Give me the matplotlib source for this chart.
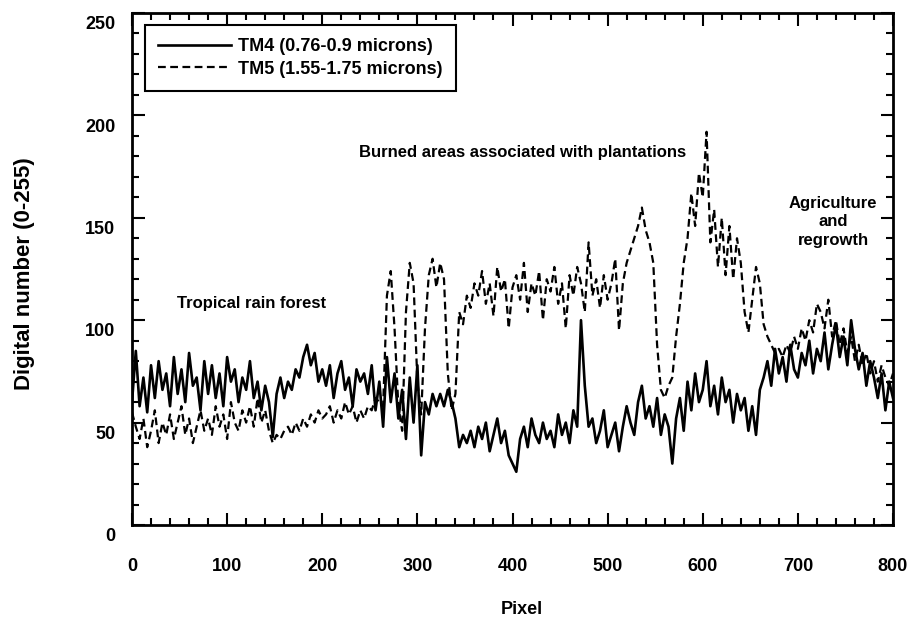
import matplotlib.pyplot as plt
import matplotlib.transforms as mtransforms
import numpy as np

# pixel position along the transect (every 4th pixel)
pixel = np.arange(0, 801, 4)

# TM4 (0.76-0.9 microns), solid line
tm4 = [60, 85, 58, 72, 55, 78, 62, 80, 66, 74, 58,
       82, 64, 76, 60, 84, 68, 72, 56, 80, 64,
       78, 62, 74, 58, 82, 70, 76, 60, 72, 66,
       80, 62, 70, 56, 68, 60, 43, 64, 72, 62,
       70, 66, 76, 72, 82, 88, 78, 84, 70, 76,
       68, 78, 62, 74, 80, 66, 72, 58, 76, 70,
       74, 64, 78, 56, 70, 48, 82, 60, 74, 52,
       66, 42, 72, 50, 78, 34, 60, 54, 64, 58,
       64, 58, 66, 60, 52, 38, 44, 40, 46, 38,
       48, 42, 50, 36, 44, 52, 40, 46, 34, 30,
       26, 42, 48, 38, 52, 44, 40, 50, 42, 46,
       38, 54, 44, 50, 40, 56, 48, 100, 68, 48,
       52, 40, 46, 56, 38, 44, 50, 36, 48, 58,
       50, 44, 60, 68, 52, 58, 48, 62, 44, 54,
       48, 30, 52, 62, 46, 70, 56, 74, 60, 66,
       80, 58, 68, 54, 72, 60, 66, 50, 64, 56,
       62, 46, 58, 44, 66, 72, 80, 68, 86, 74,
       82, 70, 88, 76, 72, 84, 78, 90, 74, 86,
       80, 94, 76, 88, 98, 82, 92, 78, 100, 86,
       76, 84, 68, 80, 72, 62, 74, 56, 70, 62]

# TM5 (1.55-1.75 microns), dashed line
tm5 = [55, 48, 42, 52, 38, 46, 56, 40, 50, 44, 54,
       42, 50, 58, 44, 52, 40, 48, 56, 46, 52,
       44, 58, 48, 54, 42, 60, 50, 46, 56, 50,
       58, 48, 62, 50, 56, 46, 40, 44, 42, 46,
       48, 44, 50, 46, 52, 48, 54, 50, 56, 52,
       54, 58, 50, 56, 52, 60, 54, 58, 50, 56,
       52, 58, 56, 62, 60, 58, 112, 124, 96, 58,
       46, 104, 128, 118, 70, 54, 96, 122, 130, 116,
       128, 120, 74, 56, 64, 104, 98, 112, 106, 118,
       112, 124, 108, 118, 102, 126, 114, 120, 96, 116,
       122, 110, 128, 104, 118, 112, 124, 100, 120, 114,
       126, 108, 118, 96, 122, 112, 126, 118, 104, 138,
       112, 120, 106, 122, 110, 118, 130, 95, 118, 128,
       134, 140, 146, 155, 144, 138, 128, 88, 66, 62,
       68, 72, 92, 108, 128, 140, 162, 146, 172, 160,
       192, 138, 154, 126, 150, 122, 146, 120, 140, 128,
       104, 94, 110, 126, 118, 98, 92, 88, 84, 86,
       82, 88, 84, 92, 86, 96, 90, 100, 94, 108,
       104, 96, 110, 92, 100, 88, 96, 84, 92, 80,
       88, 78, 84, 74, 80, 70, 78, 72, 68, 74]

plt.rcParams['font.family'] = ['Liberation Sans', 'DejaVu Sans']
plt.rcParams['font.weight'] = 'bold'

fig = plt.figure(figsize=(9.11, 6.19), dpi=100)
ax = fig.add_axes([132 / 911, 1 - 525 / 619, 761 / 911, 512 / 619])

ax.plot(pixel, tm4, color="black", linewidth=1.9, label="TM4 (0.76-0.9 microns)")
ax.plot(pixel, tm5, color="black", linewidth=1.6, linestyle=(0, (3.5, 2)),
        label="TM5 (1.55-1.75 microns)")

ax.set_xlim(0, 800)
ax.set_ylim(0, 250)
ax.set_xticks(np.arange(0, 801, 100))
ax.set_xticks(np.arange(0, 801, 20), minor=True)
ax.set_yticks(np.arange(0, 251, 50))
ax.set_yticks(np.arange(0, 251, 10), minor=True)
ax.tick_params(which="both", direction="in", top=True, right=True, width=1.5)
ax.tick_params(which="major", length=9, labelsize=13)
ax.tick_params(axis="x", which="major", pad=24)
ax.tick_params(axis="y", which="major", pad=12)
ax.tick_params(which="minor", length=5)
for s in ax.spines.values():
    s.set_linewidth(2)

# y tick labels sit a little below their ticks in the scan
shift = mtransforms.ScaledTranslation(0, -7 / 72, fig.dpi_scale_trans)
for lab in ax.get_yticklabels():
    lab.set_transform(lab.get_transform() + shift)

ax.set_xlabel("Pixel", fontsize=13, fontweight="bold")
ax.set_ylabel("Digital number (0-255)", fontsize=16, fontweight="bold")
ax.xaxis.set_label_coords(0.512, -0.148)
ax.yaxis.set_label_coords(-0.127, 0.49)

ax.text(126, 108, "Tropical rain forest", fontsize=12, fontweight="bold",
        ha="center", va="center")
ax.text(411, 182, "Burned areas associated with plantations", fontsize=12,
        fontweight="bold", ha="center", va="center")
ax.text(737, 148, "Agriculture\nand\nregrowth", fontsize=12, fontweight="bold",
        ha="center", va="center", linespacing=1.3)

leg = ax.legend(loc="upper left", bbox_to_anchor=(0.017, 0.977), borderaxespad=0,
                fontsize=13, handlelength=4, handletextpad=0.4, fancybox=False,
                framealpha=1, edgecolor="black", labelspacing=0.3, borderpad=0.75)
leg.get_frame().set_linewidth(1.5)

plt.savefig("out.png", dpi=100)
